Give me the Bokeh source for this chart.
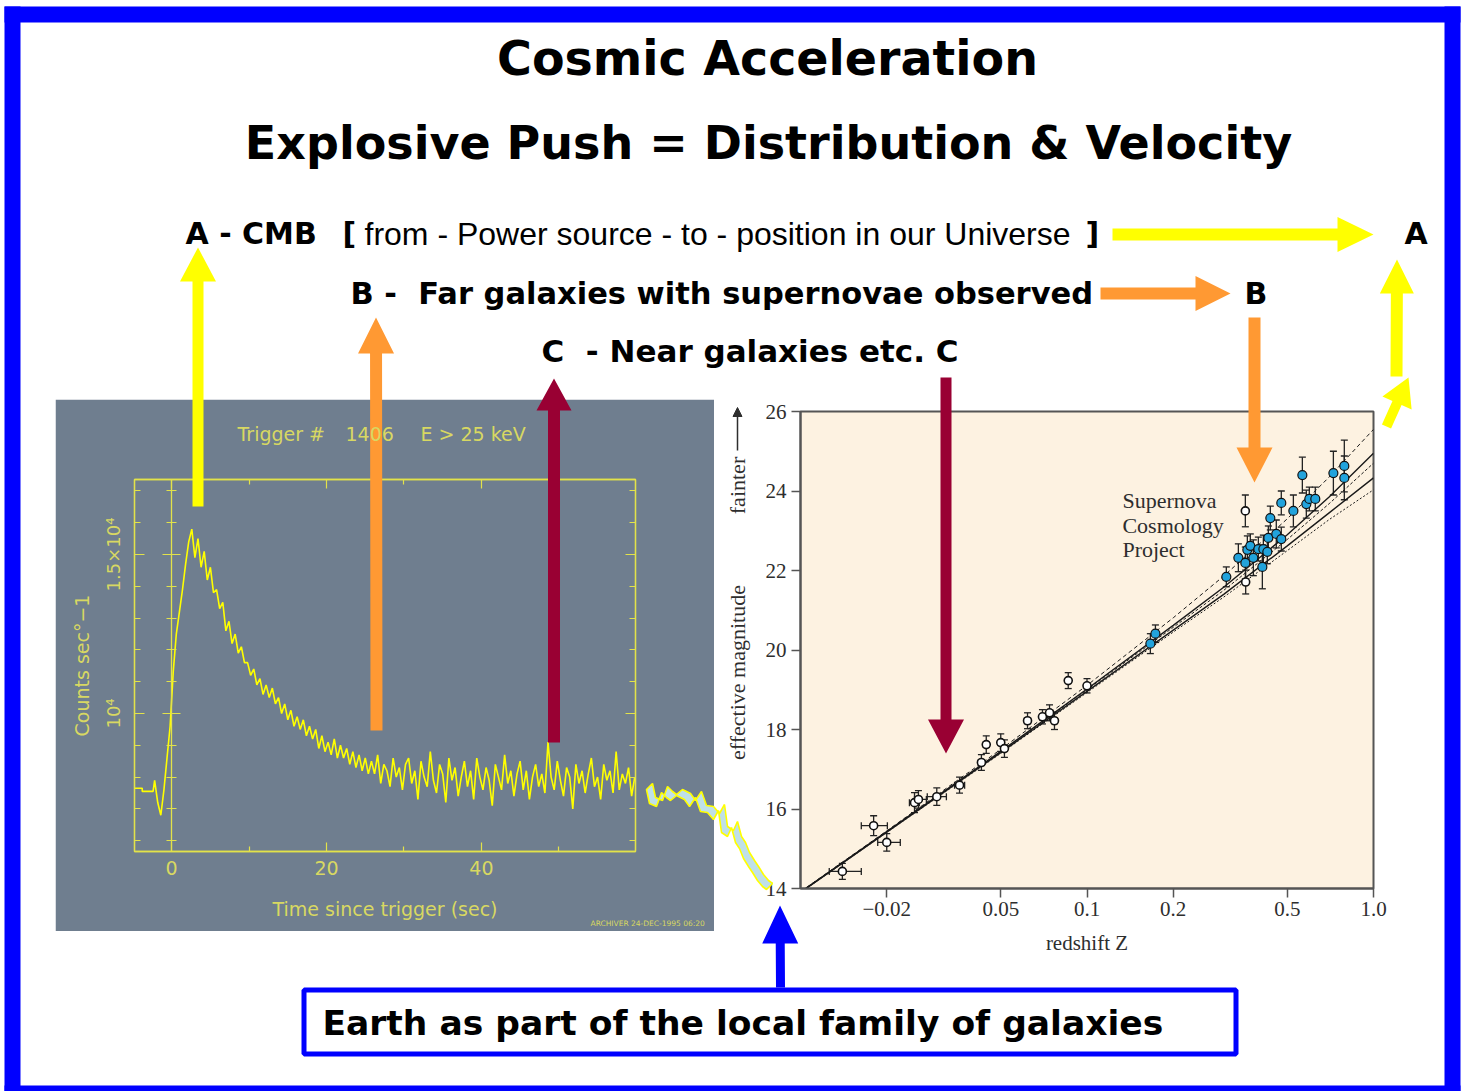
import numpy as np
from bokeh.plotting import figure
from bokeh.models import (Range1d, LinearAxis, FixedTicker, Whisker, TeeHead,
                          ColumnDataSource, Arrow, NormalHead)
from bokeh.embed import file_html
from bokeh.resources import INLINE
from bokeh.core.properties import value

NB = "\u00a0"

# ------------------------------------------------------------------ slide texts
TITLE_LINES = ["Cosmic Acceleration", "Explosive Push = Distribution & Velocity"]
ROW_A_BOLD = "A - CMB"
ROW_A_OPEN = "["
ROW_A_TEXT = "from - Power source - to - position in our Universe"
ROW_A_CLOSE = "]"
ROW_B = "B -" + NB + " Far galaxies with supernovae observed"
ROW_C = "C" + NB + " - Near galaxies etc. C"
END_A = "A"
END_B = "B"
BOX_TEXT = "Earth as part of the local family of galaxies"

# ------------------------------------------------------------------ GRB light curve
GRB_TITLE = ["Trigger #", "1406", "E > 25 keV"]
GRB_XLABEL = "Time since trigger (sec)"
GRB_YLABEL = "Counts sec°−1"
GRB_STAMP = "ARCHIVER 24-DEC-1995 06:20"
GRB_X_TICKS = [0, 20, 40]
GRB_X_MINOR = [10, 30, 50]
GRB_Y_TICKS = [10, 15]                       # thousands of counts / s
GRB_Y_LABELS = ["10⁴", "1.5×10⁴"]
GRB_Y_MINOR = [6, 7, 8, 9, 11, 12, 13, 14, 16, 17]
PRE_TIMES = [-4.8, -3.8, -3.8, -2.4]         # flat background before trigger
PRE_COUNTS = [7.65, 7.65, 7.55, 7.55]
BIN_START = -2.2
BIN_WIDTH = 0.4
COUNTS = [
    7.9, 7.2, 6.8, 7.6, 8.6, 9.6, 11.3, 12.5, 13.2, 13.9,
    14.7, 15.4, 15.8, 14.9, 15.5, 14.6, 15.1, 14.2, 14.6, 13.8,
    13.9, 13.3, 13.5, 12.6, 12.9, 12.2, 12.5, 11.9, 12.1, 11.6,
    11.6, 11.2, 11.4, 10.9, 11.1, 10.6, 10.9, 10.5, 10.8, 10.3,
    10.5, 10.0, 10.3, 9.8, 10.1, 9.6, 9.9, 9.5, 9.8, 9.3,
    9.6, 9.2, 9.5, 8.9, 9.3, 8.8, 9.1, 8.7, 9.2, 8.6,
    9.0, 8.6, 8.9, 8.4, 8.8, 8.3, 8.7, 8.2, 8.6, 8.1,
    8.5, 8.1, 8.7, 7.8, 8.4, 8.2, 7.7, 8.6, 8.0, 8.3,
    7.6, 8.4, 8.6, 7.8, 8.2, 7.3, 8.5, 8.0, 7.7, 8.8,
    7.9, 7.5, 8.4, 8.1, 7.2, 8.6, 7.9, 8.3, 7.4, 8.0,
    8.5, 7.7, 8.2, 7.3, 8.6, 8.0, 7.6, 8.3, 7.9, 7.1,
    8.4, 8.0, 7.6, 8.7, 7.8, 8.2, 7.4, 8.1, 8.5, 7.6,
    8.2, 7.3, 8.0, 8.4, 7.7, 8.1, 7.5, 9.1, 8.0, 7.6,
    8.5, 7.9, 7.4, 8.3, 8.0, 7.0, 8.4, 7.8, 8.2, 7.5,
    8.1, 8.6, 7.7, 8.0, 7.3, 8.4, 7.9, 8.2, 7.5, 8.8,
    7.6, 8.1, 7.8, 8.3, 7.4, 8.0,
]

# ------------------------------------------------------------------ Hubble diagram
HUB_Y_TICKS = [14, 16, 18, 20, 22, 24, 26]
HUB_X_TICKS = [0.02, 0.05, 0.1, 0.2, 0.5, 1.0]
HUB_X_LABELS = ["−0.02", "0.05", "0.1", "0.2", "0.5", "1.0"]
HUB_XLABEL = "redshift Z"
HUB_YLABEL = "effective magnitude"
HUB_FAINTER = "fainter"
HUB_NOTE = ["Supernova", "Cosmology", "Project"]

# Calan/Tololo (open circles)
Z_LOW = [0.0140, 0.0180, 0.0200, 0.0250, 0.0258, 0.0299, 0.0359, 0.0428, 0.0445,
         0.0500, 0.0515, 0.0620, 0.0699, 0.0740, 0.0770, 0.0860, 0.1000, 0.3570, 0.3580]
M_LOW = [14.43, 15.58, 15.16, 16.16, 16.24, 16.31, 16.60, 17.17, 17.62,
         17.67, 17.52, 18.22, 18.32, 18.42, 18.22, 19.23, 19.10, 23.50, 21.71]
ERR_LOW = [0.20, 0.25, 0.22, 0.25, 0.22, 0.22, 0.20, 0.20, 0.22,
           0.22, 0.22, 0.20, 0.18, 0.20, 0.22, 0.20, 0.18, 0.40, 0.30]
Z_LOW_LO = [0.0126, 0.0163, 0.0186, 0.0240, 0.0250, 0.0277, 0.0345, 0.0418, 0.0435,
            0.0490, 0.0503, 0.0605, 0.0685, 0.0725, 0.0755, 0.0845, 0.0980, 0.3570, 0.3580]
Z_LOW_HI = [0.0163, 0.0201, 0.0223, 0.0260, 0.0275, 0.0323, 0.0374, 0.0438, 0.0455,
            0.0510, 0.0527, 0.0635, 0.0713, 0.0755, 0.0785, 0.0875, 0.1020, 0.3570, 0.3580]

# Supernova Cosmology Project (filled blue)
Z_SCP = [0.1664, 0.1733, 0.3064, 0.3375, 0.3570, 0.3628, 0.3716, 0.3807, 0.3963,
         0.4093, 0.4126, 0.4260, 0.4295, 0.4364, 0.4578, 0.4766, 0.4766, 0.5252,
         0.5645, 0.5828, 0.5970, 0.6264, 0.7244, 0.7909, 0.7909]
M_SCP = [20.16, 20.41, 21.84, 22.32, 22.19, 22.52, 22.62, 22.32, 22.54,
         22.09, 22.54, 22.47, 22.82, 23.32, 22.92, 22.79, 23.70, 23.50,
         24.40, 23.67, 23.80, 23.80, 24.45, 24.63, 24.33]
ERR_SCP = [0.25, 0.22, 0.25, 0.35, 0.40, 0.35, 0.30, 0.45, 0.30,
           0.55, 0.35, 0.30, 0.30, 0.30, 0.35, 0.30, 0.30, 0.40,
           0.45, 0.35, 0.30, 0.30, 0.55, 0.65, 0.55]

# model curves
CURVE_Z = [0.01, 0.02, 0.05, 0.1, 0.2, 0.3, 0.5, 0.7, 1.0]
CURVES = [
    [13.92, 15.45, 17.50, 19.11, 20.81, 21.86, 23.30, 24.35, 25.55],
    [13.91, 15.43, 17.45, 19.02, 20.62, 21.58, 22.90, 23.85, 24.95],
    [13.91, 15.43, 17.44, 19.00, 20.57, 21.50, 22.78, 23.68, 24.70],
    [13.90, 15.42, 17.42, 18.96, 20.50, 21.40, 22.62, 23.45, 24.33],
    [13.90, 15.41, 17.40, 18.93, 20.45, 21.33, 22.50, 23.28, 24.03],
]
CURVE_DASH = ["4 3", "solid", "3 2", "solid", "2 2"]
CURVE_WIDTH = [1.0, 1.4, 1.0, 1.4, 1.0]

# ------------------------------------------------------------------ colours
GRAY = "#6f7e8f"
YEL_AX = "#e2e24a"
YEL_TX = "#d8d862"
YEL = "#ffff00"
ORANGE = "#ff9933"
CRIMSON = "#990033"
BLUE = "#0000ff"
BEIGE = "#fdf2e1"
DARK = "#2e2e2e"
SERIF = "Liberation Serif"

# ================================================================== GRB figure
g = figure(title=None, frame_width=501, frame_height=372,
           min_border_left=79, min_border_right=79, min_border_top=80, min_border_bottom=80,
           x_range=Range1d(-4.8, 59.9), y_range=Range1d(5.66, 17.36),
           background_fill_color=GRAY, border_fill_color=GRAY,
           outline_line_color=YEL_AX, outline_line_width=1.3,
           output_backend="svg", toolbar_location=None,
           styles={"position": "absolute", "left": "55px", "top": "399px"})
g.grid.visible = False


def style_grb_axis(ax, tick_in, minor_in, labels=True):
    ax.axis_line_color = YEL_AX
    ax.axis_line_width = 1.3
    ax.major_tick_line_color = YEL_AX
    ax.minor_tick_line_color = YEL_AX
    ax.major_tick_line_width = 1.2
    ax.minor_tick_line_width = 1.2
    ax.major_tick_in = tick_in
    ax.major_tick_out = 0
    ax.minor_tick_in = minor_in
    ax.minor_tick_out = 0
    ax.major_label_text_color = YEL_TX
    ax.major_label_text_font = "DejaVu Sans"
    ax.major_label_text_font_size = "19px"
    ax.axis_label_text_color = YEL_TX
    ax.axis_label_text_font = "DejaVu Sans"
    ax.axis_label_text_font_style = "normal"
    ax.axis_label_text_font_size = "19px"
    if not labels:
        ax.major_label_overrides = {t: "" for t in ax.ticker.ticks}


xb = g.xaxis[0]
xb.ticker = FixedTicker(ticks=GRB_X_TICKS, minor_ticks=GRB_X_MINOR)
style_grb_axis(xb, 9, 5)
xb.major_label_standoff = 9
xb.axis_label = GRB_XLABEL
xb.axis_label_standoff = 20

yl = g.yaxis[0]
yl.ticker = FixedTicker(ticks=GRB_Y_TICKS, minor_ticks=GRB_Y_MINOR)
style_grb_axis(yl, 10, 6)
yl.major_label_overrides = {t: s for t, s in zip(GRB_Y_TICKS, GRB_Y_LABELS)}
yl.major_label_orientation = "vertical"
yl.major_label_text_font_size = "18px"
yl.major_label_standoff = 10
yl.axis_label = GRB_YLABEL
yl.axis_label_standoff = 8

xt = LinearAxis(ticker=FixedTicker(ticks=GRB_X_TICKS, minor_ticks=GRB_X_MINOR))
style_grb_axis(xt, 9, 5, labels=False)
g.add_layout(xt, "above")
yr = LinearAxis(ticker=FixedTicker(ticks=GRB_Y_TICKS, minor_ticks=GRB_Y_MINOR))
style_grb_axis(yr, 10, 6, labels=False)
g.add_layout(yr, "right")
y0 = LinearAxis(fixed_location=0, ticker=FixedTicker(ticks=GRB_Y_TICKS, minor_ticks=GRB_Y_MINOR))
style_grb_axis(y0, 9, 5, labels=False)
y0.major_tick_out = 9
y0.minor_tick_out = 5
g.add_layout(y0, "left")

lc_x = PRE_TIMES + [BIN_START + i * BIN_WIDTH for i in range(len(COUNTS))]
lc_y = PRE_COUNTS + COUNTS
g.line(lc_x, lc_y, line_color=YEL, line_width=1.6)

# ================================================================== Hubble figure
h = figure(title=None, frame_width=573, frame_height=477,
           min_border_left=86, min_border_right=20, min_border_top=31, min_border_bottom=77,
           x_axis_type="log", x_range=Range1d(0.01, 1.0), y_range=Range1d(14, 26),
           background_fill_color=BEIGE, border_fill_color=None,
           outline_line_color="#555555", outline_line_width=2,
           output_backend="svg", toolbar_location=None,
           styles={"position": "absolute", "left": "714px", "top": "380px"})
h.grid.visible = False
for ax in (h.xaxis[0], h.yaxis[0]):
    ax.axis_line_color = "#555555"
    ax.axis_line_width = 2
    ax.major_tick_line_color = "#555555"
    ax.major_tick_line_width = 1.5
    ax.major_tick_in = 0
    ax.major_tick_out = 9
    ax.minor_tick_in = 0
    ax.minor_tick_out = 0
    ax.major_label_text_font = SERIF
    ax.major_label_text_font_size = "21px"
    ax.major_label_text_color = DARK
    ax.axis_label_text_font = SERIF
    ax.axis_label_text_font_size = "21px"
    ax.axis_label_text_font_style = "normal"
    ax.axis_label_text_color = DARK
h.yaxis[0].ticker = FixedTicker(ticks=HUB_Y_TICKS, minor_ticks=[])
h.yaxis[0].major_label_standoff = 5
h.xaxis[0].ticker = FixedTicker(ticks=HUB_X_TICKS, minor_ticks=[])
h.xaxis[0].major_label_overrides = {t: s for t, s in zip(HUB_X_TICKS, HUB_X_LABELS)}
h.xaxis[0].major_label_standoff = 4
h.xaxis[0].axis_label = HUB_XLABEL
h.xaxis[0].axis_label_standoff = 12

for vals, dash, lw in zip(CURVES, CURVE_DASH, CURVE_WIDTH):
    h.line(CURVE_Z, vals, line_color="#1a1a1a", line_width=lw, line_dash=dash)

low = ColumnDataSource(dict(z=Z_LOW, m=M_LOW,
                            mlo=[m - e for m, e in zip(M_LOW, ERR_LOW)],
                            mhi=[m + e for m, e in zip(M_LOW, ERR_LOW)],
                            zlo=Z_LOW_LO, zhi=Z_LOW_HI))
scp = ColumnDataSource(dict(z=Z_SCP, m=M_SCP,
                            mlo=[m - e for m, e in zip(M_SCP, ERR_SCP)],
                            mhi=[m + e for m, e in zip(M_SCP, ERR_SCP)]))


def tee():
    return TeeHead(size=7, line_color="#222222", line_width=1.3)


for src in (low, scp):
    h.add_layout(Whisker(source=src, base="z", lower="mlo", upper="mhi", dimension="height",
                         line_color="#222222", line_width=1.3, upper_head=tee(), lower_head=tee()))
h.add_layout(Whisker(source=low, base="m", lower="zlo", upper="zhi", dimension="width",
                     line_color="#222222", line_width=1.3, upper_head=tee(), lower_head=tee()))
h.scatter("z", "m", source=low, marker="circle", size=8, fill_color="white",
          line_color="#111111", line_width=1.6)
h.scatter("z", "m", source=scp, marker="circle", size=9, fill_color="#22a3dc",
          line_color="#111111", line_width=1.2)
h.text(x=[0.1329] * 3, y=[23.75, 23.12, 22.52], text=HUB_NOTE,
       text_font=value(SERIF), text_font_size="22px", text_color=DARK,
       text_align="left", text_baseline="middle")

# ================================================================== slide overlay
s = figure(title=None, width=1466, height=1091, min_border=0,
           x_range=Range1d(0, 1466), y_range=Range1d(1091, 0),
           x_axis_type=None, y_axis_type=None,
           background_fill_color=None, border_fill_color=None, outline_line_color=None,
           output_backend="svg", toolbar_location=None,
           styles={"position": "absolute", "left": "0px", "top": "0px"})
s.grid.visible = False

# blue frame of the slide
s.quad(left=[4, 4, 1444, 4], right=[1460, 20, 1460, 1460],
       top=[6, 6, 6, 1085], bottom=[22, 1101, 1101, 1101],
       fill_color=BLUE, line_color=None)

# bottom caption box
s.quad(left=[303.5], right=[1235.5], top=[989.5], bottom=[1053.5],
       fill_color=None, line_color=BLUE, line_width=5)


def arrow_poly(x0, y0, x1, y1, shaft, head_w, head_l):
    dx, dy = x1 - x0, y1 - y0
    L = float(np.hypot(dx, dy))
    ux, uy = dx / L, dy / L
    px, py = -uy, ux
    bx, by = x1 - ux * head_l, y1 - uy * head_l
    pts = [(x0 + px * shaft / 2, y0 + py * shaft / 2),
           (bx + px * shaft / 2, by + py * shaft / 2),
           (bx + px * head_w / 2, by + py * head_w / 2),
           (x1, y1),
           (bx - px * head_w / 2, by - py * head_w / 2),
           (bx - px * shaft / 2, by - py * shaft / 2),
           (x0 - px * shaft / 2, y0 - py * shaft / 2)]
    return [p[0] for p in pts], [p[1] for p in pts]


ARROWS = [  # tail x, tail y, tip x, tip y, shaft, head width, head length, colour
    (197.5, 506, 197.5, 247, 11, 36, 34, YEL),
    (376, 730, 375.5, 317, 12, 36, 36, ORANGE),
    (553.5, 742, 553.5, 378, 12, 35, 32, CRIMSON),
    (945.5, 377, 945.5, 753, 11, 36, 34, CRIMSON),
    (1254, 317, 1254, 482, 12, 36, 35, ORANGE),
    (1112, 234, 1373, 234, 12, 35, 36, YEL),
    (1100, 293, 1230, 293, 12, 35, 35, ORANGE),
    (1396, 376, 1396.5, 259, 12, 34, 34, YEL),
    (1386, 426, 1408, 377, 10, 32, 28, YEL),
    (780, 987, 779.5, 905, 9, 36, 38, BLUE),
]
axs, ays, acs = [], [], []
for (x0, y0_, x1, y1, sw, hw, hl, c) in ARROWS:
    px_, py_ = arrow_poly(x0, y0_, x1, y1, sw, hw, hl)
    axs.append(px_)
    ays.append(py_)
    acs.append(c)
s.patches(axs, ays, fill_color=acs, line_color=None)

# squiggle linking the two plots
WIGGLE = [(646, 789), (649, 803), (656, 806), (661, 792), (666, 797), (670, 800), (676, 795),
          (684, 799), (689, 806), (695, 797), (700, 811), (707, 812), (713, 819), (718, 810),
          (721, 832), (727, 836), (731, 827), (735, 842), (739, 848), (743, 858), (748, 866),
          (752, 872), (757, 880), (762, 886), (766, 889)]
wx = [p[0] for p in WIGGLE]
wy = [p[1] for p in WIGGLE]
s.patch(wx + [x + 6 for x in wx[::-1]], wy + [y - 6 for y in wy[::-1]],
        fill_color="#bfe0e8", line_color=YEL, line_width=1.6)

BOLD = value("DejaVu Sans")
s.text(x=[767], y=[58], text=[TITLE_LINES[0]], text_font=BOLD, text_font_style="bold",
       text_font_size="47.5px", text_align="center", text_baseline="middle", text_color="black")
s.text(x=[768], y=[142], text=[TITLE_LINES[1]], text_font=BOLD, text_font_style="bold",
       text_font_size="46px", text_align="center", text_baseline="middle", text_color="black")
s.text(x=[185, 342, 1085, 1404, 1244], y=[233, 233, 233, 233, 293],
       text=[ROW_A_BOLD, ROW_A_OPEN, ROW_A_CLOSE, END_A, END_B],
       text_font=BOLD, text_font_style="bold", text_font_size="30px",
       text_align="left", text_baseline="middle", text_color="black")
s.text(x=[350], y=[293], text=[ROW_B], text_font=BOLD, text_font_style="bold",
       text_font_size="30.5px", text_align="left", text_baseline="middle", text_color="black")
s.text(x=[541], y=[350], text=[ROW_C], text_font=BOLD, text_font_style="bold",
       text_font_size="31px", text_align="left", text_baseline="middle", text_color="black")
s.text(x=[364], y=[233], text=[ROW_A_TEXT], text_font=value("Liberation Sans"),
       text_font_size="32px", text_align="left", text_baseline="middle", text_color="black")
s.text(x=[322], y=[1022], text=[BOX_TEXT], text_font=BOLD, text_font_style="bold",
       text_font_size="34.5px", text_align="left", text_baseline="middle", text_color="black")

# texts belonging to the GRB panel
s.text(x=[237, 345, 420], y=[433, 433, 433], text=GRB_TITLE, text_font=value("DejaVu Sans"),
       text_font_size="19px", text_color=YEL_TX, text_align="left", text_baseline="middle")
s.text(x=[590], y=[923], text=[GRB_STAMP], text_font=value("DejaVu Sans"), text_font_size="7.5px",
       text_color=YEL_TX, text_align="left", text_baseline="middle")

# texts belonging to the Hubble panel
s.text(x=[737, 737], y=[672, 485], text=[HUB_YLABEL, HUB_FAINTER], angle=[np.pi / 2] * 2,
       text_font=value(SERIF), text_font_size="22px", text_color=DARK,
       text_align="center", text_baseline="middle")
s.add_layout(Arrow(end=NormalHead(size=9, fill_color=DARK, line_color=DARK),
                   x_start=737, y_start=450, x_end=737, y_end=407,
                   line_color=DARK, line_width=1.5))

open("out.html", "w").write(file_html([g, h, s], INLINE))
